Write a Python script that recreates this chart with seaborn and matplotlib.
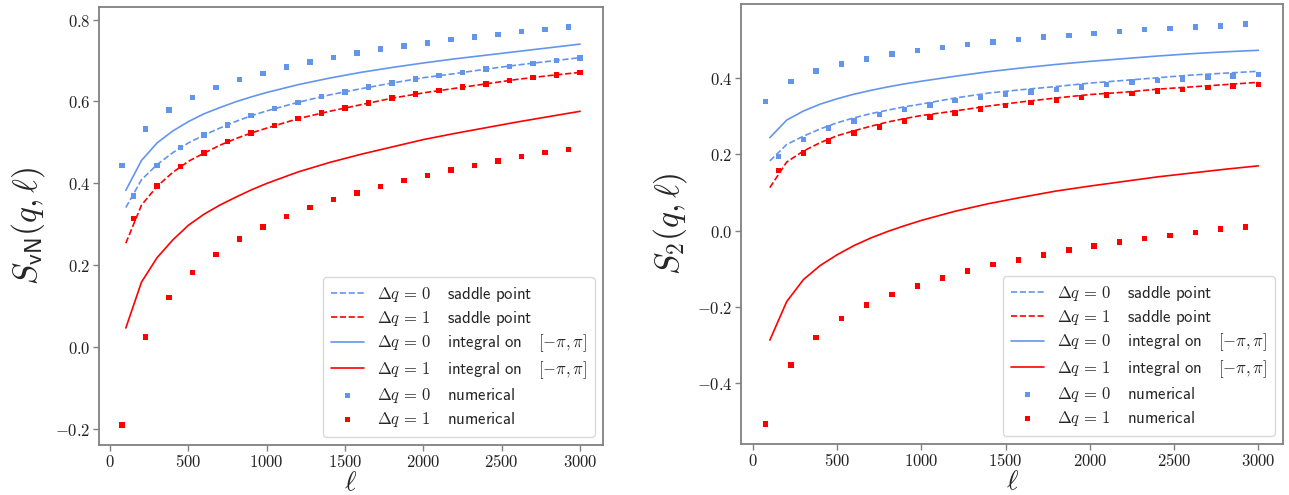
"""
Entropy vs subsystem size: saddle point, integral and numerical results
"""
import matplotlib
matplotlib.use('Agg')
import matplotlib.pyplot as plt
from matplotlib.ticker import FuncFormatter, MultipleLocator
import seaborn as sns

sns.set_style('white')
plt.rcParams['mathtext.fontset'] = 'cm'
plt.rcParams['font.family'] = ['DejaVu Sans']

# subsystem sizes
ell_num = [75, 150, 225, 300, 375, 450, 525, 600, 675, 750, 825, 900, 975, 1050,
           1125, 1200, 1275, 1350, 1425, 1500, 1575, 1650, 1725, 1800, 1875, 1950,
           2025, 2100, 2175, 2250, 2325, 2400, 2475, 2550, 2625, 2700, 2775, 2850,
           2925, 3000]
ell_line = [100, 200, 300, 400, 500, 600, 700, 800, 900, 1000,
            1200, 1400, 1600, 1800, 2000, 2200, 2400, 2600, 2800, 3000]

# von Neumann entropy (left)
svn_num_dq0 = [0.443, 0.369, 0.533, 0.444, 0.579, 0.487, 0.610, 0.518, 0.634, 0.543,
               0.653, 0.565, 0.669, 0.583, 0.684, 0.598, 0.696, 0.612, 0.708, 0.623,
               0.718, 0.635, 0.728, 0.645, 0.735, 0.655, 0.743, 0.663, 0.751, 0.671,
               0.757, 0.679, 0.764, 0.686, 0.771, 0.693, 0.776, 0.700, 0.782, 0.706]
svn_num_dq1 = [-0.190, 0.315, 0.025, 0.394, 0.121, 0.441, 0.182, 0.474, 0.227, 0.502,
               0.264, 0.523, 0.294, 0.541, 0.319, 0.558, 0.341, 0.572, 0.360, 0.584,
               0.377, 0.596, 0.392, 0.608, 0.407, 0.618, 0.420, 0.627, 0.433, 0.635,
               0.443, 0.643, 0.455, 0.651, 0.465, 0.659, 0.475, 0.665, 0.482, 0.671]
svn_saddle_dq0 = [0.341, 0.409, 0.446, 0.475, 0.499, 0.518, 0.535, 0.551, 0.565, 0.577,
                  0.598, 0.616, 0.631, 0.645, 0.658, 0.668, 0.679, 0.689, 0.698, 0.707]
svn_saddle_dq1 = [0.254, 0.347, 0.393, 0.427, 0.454, 0.474, 0.493, 0.509, 0.523, 0.535,
                  0.558, 0.576, 0.592, 0.608, 0.621, 0.632, 0.643, 0.654, 0.663, 0.671]
svn_int_dq0 = [0.383, 0.456, 0.499, 0.528, 0.551, 0.570, 0.585, 0.599, 0.611, 0.622,
               0.641, 0.657, 0.671, 0.683, 0.694, 0.704, 0.713, 0.722, 0.731, 0.740]
svn_int_dq1 = [0.047, 0.159, 0.219, 0.262, 0.298, 0.325, 0.347, 0.366, 0.384, 0.400,
               0.428, 0.451, 0.471, 0.489, 0.507, 0.522, 0.536, 0.550, 0.563, 0.576]

# Renyi-2 entropy (right)
s2_num_dq0 = [0.338, 0.195, 0.391, 0.239, 0.419, 0.269, 0.437, 0.288, 0.450, 0.304,
              0.463, 0.317, 0.472, 0.330, 0.481, 0.341, 0.489, 0.350, 0.495, 0.358,
              0.502, 0.364, 0.508, 0.370, 0.512, 0.377, 0.517, 0.383, 0.523, 0.390,
              0.527, 0.394, 0.531, 0.398, 0.534, 0.403, 0.537, 0.406, 0.542, 0.410]
s2_num_dq1 = [-0.507, 0.157, -0.352, 0.204, -0.280, 0.235, -0.231, 0.256, -0.195, 0.272,
              -0.168, 0.288, -0.145, 0.298, -0.124, 0.309, -0.106, 0.319, -0.089, 0.328,
              -0.077, 0.336, -0.064, 0.343, -0.051, 0.350, -0.040, 0.356, -0.030, 0.360,
              -0.021, 0.366, -0.012, 0.370, -0.004, 0.375, 0.004, 0.379, 0.010, 0.383]
s2_saddle_dq0 = [0.183, 0.226, 0.248, 0.267, 0.283, 0.296, 0.307, 0.316, 0.325, 0.332,
                 0.348, 0.361, 0.370, 0.378, 0.387, 0.394, 0.401, 0.408, 0.413, 0.418]
s2_saddle_dq1 = [0.113, 0.180, 0.209, 0.231, 0.249, 0.262, 0.274, 0.285, 0.294, 0.302,
                 0.314, 0.327, 0.338, 0.348, 0.357, 0.363, 0.371, 0.377, 0.383, 0.389]
s2_int_dq0 = [0.244, 0.290, 0.314, 0.332, 0.346, 0.358, 0.368, 0.377, 0.385, 0.392,
              0.405, 0.417, 0.427, 0.436, 0.444, 0.451, 0.458, 0.464, 0.469, 0.473]
s2_int_dq1 = [-0.287, -0.186, -0.128, -0.091, -0.063, -0.039, -0.019, -0.002, 0.013, 0.027,
              0.051, 0.071, 0.088, 0.104, 0.117, 0.129, 0.141, 0.151, 0.161, 0.170]

BLUE = '#6495ED'
RED = '#FF0000'

labels = [r'$\Delta q \,=\, 0\quad\,\mathsf{saddle\ point}$',
          r'$\Delta q \,=\, 1\quad\,\mathsf{saddle\ point}$',
          r'$\Delta q \,=\, 0\quad\,\mathsf{integral\ on}\quad\,[-\pi,\pi]$',
          r'$\Delta q \,=\, 1\quad\,\mathsf{integral\ on}\quad\,[-\pi,\pi]$',
          r'$\Delta q \,=\, 0\quad\,\mathsf{numerical}$',
          r'$\Delta q \,=\, 1\quad\,\mathsf{numerical}$']


def draw(ax, saddle0, saddle1, int0, int1, num0, num1, ylabel):
    sns.lineplot(x=ell_line, y=saddle0, ax=ax, color=BLUE, lw=1.2, linestyle='--', label=labels[0])
    sns.lineplot(x=ell_line, y=saddle1, ax=ax, color=RED, lw=1.2, linestyle='--', label=labels[1])
    sns.lineplot(x=ell_line, y=int0, ax=ax, color=BLUE, lw=1.2, label=labels[2])
    sns.lineplot(x=ell_line, y=int1, ax=ax, color=RED, lw=1.2, label=labels[3])
    sns.scatterplot(x=ell_num, y=num0, ax=ax, color=BLUE, marker='s', s=15,
                    edgecolor='none', label=labels[4])
    sns.scatterplot(x=ell_num, y=num1, ax=ax, color=RED, marker='s', s=15,
                    edgecolor='none', label=labels[5])

    ax.xaxis.set_major_locator(MultipleLocator(500))
    ax.yaxis.set_major_locator(MultipleLocator(0.2))
    ax.xaxis.set_major_formatter(FuncFormatter(lambda v, p: f'${int(round(v))}$'))
    ax.yaxis.set_major_formatter(FuncFormatter(lambda v, p: f'${v:.1f}$'))
    ax.tick_params(axis='both', which='major', labelsize=12, length=4, width=1, pad=2,
                   color='#808080', left=True, bottom=True, labelcolor='#222222')
    for sp in ax.spines.values():
        sp.set_color('#808080')
        sp.set_linewidth(1.3)

    ax.set_xlabel(r'$\ell$', fontsize=20, labelpad=-2)
    ax.set_ylabel(ylabel, fontsize=24, labelpad=6)
    ax.legend(loc='lower right', fontsize=12, frameon=True, fancybox=True,
              framealpha=0.8, edgecolor='#d0d0d0', handlelength=2.0,
              borderpad=0.45, labelspacing=0.3)


fig = plt.figure(figsize=(12.89, 4.95), dpi=100)
ax1 = fig.add_axes([99 / 1289, 50 / 495, 504 / 1289, 438 / 495])
ax2 = fig.add_axes([741 / 1289, 51 / 495, 542 / 1289, 440 / 495])

draw(ax1, svn_saddle_dq0, svn_saddle_dq1, svn_int_dq0, svn_int_dq1,
     svn_num_dq0, svn_num_dq1, r'$S_{\mathsf{vN}}(q,\ell)$')
draw(ax2, s2_saddle_dq0, s2_saddle_dq1, s2_int_dq0, s2_int_dq1,
     s2_num_dq0, s2_num_dq1, r'$S_2(q,\ell)$')

plt.savefig('out.png', dpi=100)
print("saved out.png")
